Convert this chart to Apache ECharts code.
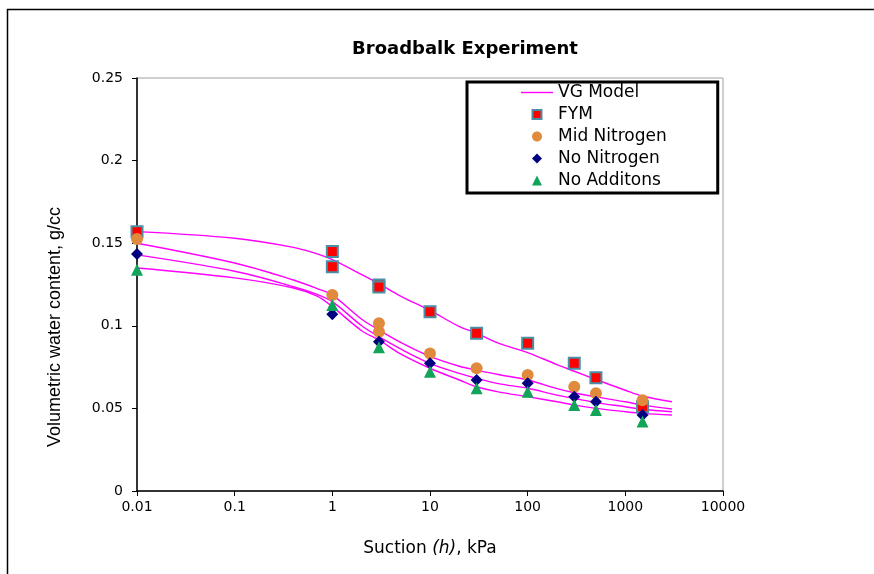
<!DOCTYPE html>
<html>
<head>
<meta charset="utf-8">
<script src="https://cdn.jsdelivr.net/npm/echarts@6/dist/echarts.min.js"></script>
<style>
html,body{margin:0;padding:0;background:#fff;}
#chart{width:874px;height:574px;}
</style>
</head>
<body>
<div id="chart"></div>
<script>
// ---- data ----
const xTicks = [0.01, 0.1, 1, 10, 100, 1000, 10000];

const fymSuction = [0.01, 1, 1, 3, 3, 10, 30, 100, 300, 500, 1500];
const fymVwc     = [0.157, 0.145, 0.1358, 0.1247, 0.1235, 0.1085, 0.0955, 0.0894, 0.0773, 0.0686, 0.051];

const midSuction = [0.01, 1, 3, 3, 10, 30, 100, 300, 500, 1500];
const midVwc     = [0.1525, 0.1186, 0.1015, 0.0964, 0.0833, 0.0743, 0.0702, 0.0631, 0.0591, 0.055];

const noNSuction = [0.01, 1, 3, 10, 30, 100, 300, 500, 1500];
const noNVwc     = [0.1435, 0.107, 0.0904, 0.0773, 0.0672, 0.0652, 0.057, 0.054, 0.046];

const noAddSuction = [0.01, 1, 3, 10, 30, 100, 300, 500, 1500];
const noAddVwc     = [0.134, 0.1126, 0.087, 0.0722, 0.0622, 0.0601, 0.052, 0.049, 0.042];

// VG model curves
const vgSuction = [0.01, 0.1, 0.4, 0.7, 1, 2, 3, 5, 10, 20, 30, 50, 100, 200, 300, 500, 1000, 1500, 3000];
const vgFym   = [0.157, 0.153, 0.1475, 0.1435, 0.140, 0.131, 0.1255, 0.118, 0.1093, 0.0995, 0.0955, 0.0895, 0.0838, 0.0765, 0.0725, 0.0675, 0.061, 0.0575, 0.054];
const vgMid   = [0.150, 0.138, 0.1277, 0.1225, 0.1186, 0.104, 0.0975, 0.090, 0.0815, 0.0755, 0.0732, 0.0705, 0.0672, 0.062, 0.0595, 0.057, 0.054, 0.052, 0.0496];
const vgNoN   = [0.1429, 0.133, 0.1237, 0.119, 0.1146, 0.100, 0.0934, 0.086, 0.0773, 0.0712, 0.0682, 0.065, 0.0622, 0.058, 0.056, 0.0535, 0.051, 0.0495, 0.048];
const vgNoAdd = [0.135, 0.129, 0.1229, 0.118, 0.1116, 0.097, 0.0914, 0.083, 0.0743, 0.0672, 0.0631, 0.060, 0.0571, 0.054, 0.052, 0.050, 0.048, 0.047, 0.046];

const yTicks = [0, 0.05, 0.1, 0.15, 0.2, 0.25];

const legendNames = ['VG Model', 'FYM', 'Mid Nitrogen', 'No Nitrogen', 'No Additons'];

const zip = (xs, ys) => xs.map((x, i) => [x, ys[i]]);

const TXT = '"DejaVu Sans", sans-serif';

// legend icons drawn inside a 32x11 box (corner move-to points fix the box)
const BOX = 'M0,0 M32,11 ';
const ICON_LINE = 'path://' + BOX + 'M0,4.8 L32,4.8 L32,6.2 L0,6.2 Z';
const ICON_RECT = 'path://' + BOX + 'M11.5,1 L20.5,1 L20.5,10 L11.5,10 Z';
const ICON_CIRC = 'path://' + BOX + 'M16,0.5 C18.76,0.5 21,2.74 21,5.5 C21,8.26 18.76,10.5 16,10.5 C13.24,10.5 11,8.26 11,5.5 C11,2.74 13.24,0.5 16,0.5 Z';
const ICON_DIAM = 'path://' + BOX + 'M16,0.5 L21,5.5 L16,10.5 L11,5.5 Z';
const ICON_TRI  = 'path://' + BOX + 'M16,0.5 L21,10.5 L11,10.5 Z';

function vgSeries(vals) {
  return {
    name: 'VG Model', type: 'line', data: zip(vgSuction, vals),
    smooth: 0.35, symbol: 'none', showSymbol: false,
    lineStyle: { color: '#ff00ff', width: 1.4 }, itemStyle: { color: '#ff00ff' },
    z: 2, silent: true
  };
}

const chart = echarts.init(document.getElementById('chart'), null, { renderer: 'canvas' });
chart.setOption({
  animation: false,
  backgroundColor: '#ffffff',
  title: {
    text: 'Broadbalk Experiment', left: 460, top: 35, textAlign: 'center',
    textStyle: { fontFamily: TXT, fontSize: 18, fontWeight: 'bold', color: '#000' }
  },
  grid: { left: 137, right: 151, top: 78, bottom: 83, show: true, borderColor: '#a0a0a0', borderWidth: 1, backgroundColor: 'transparent' },
  legend: {
    orient: 'vertical', left: 467, top: 82,
    padding: [2, 51, 4, 53],
    itemWidth: 32, itemHeight: 11, itemGap: 5,
    symbolKeepAspect: true,
    backgroundColor: '#fff', borderColor: '#000', borderWidth: 3,
    textStyle: { fontFamily: TXT, fontSize: 17, color: '#000' },
    data: [
      { name: legendNames[0], icon: ICON_LINE, itemStyle: { color: '#ff00ff', borderWidth: 0 }, lineStyle: { width: 0 } },
      { name: legendNames[1], icon: ICON_RECT, itemStyle: { color: '#ff0000', borderColor: '#4a8fa6', borderWidth: 2 } },
      { name: legendNames[2], icon: ICON_CIRC, itemStyle: { color: '#df8a3c', borderWidth: 0 } },
      { name: legendNames[3], icon: ICON_DIAM, itemStyle: { color: '#000080', borderWidth: 0 } },
      { name: legendNames[4], icon: ICON_TRI,  itemStyle: { color: '#12a55a', borderWidth: 0 } }
    ]
  },
  xAxis: {
    type: 'log', logBase: 10, min: xTicks[0], max: xTicks[xTicks.length - 1],
    name: '{a|Suction }{b|(h)}{a|, kPa}', nameLocation: 'middle', nameGap: 49,
    nameTextStyle: { rich: {
      a: { fontFamily: TXT, fontSize: 17, color: '#000' },
      b: { fontFamily: TXT, fontSize: 17, fontStyle: 'italic', color: '#000' }
    } },
    axisLine: { lineStyle: { color: '#000', width: 1.5 } },
    axisTick: { show: true, inside: false, length: 5, lineStyle: { color: '#000' } },
    axisLabel: { fontFamily: TXT, fontSize: 14, color: '#000', margin: 9,
      formatter: v => String(Number(v.toPrecision(6))) },
    splitLine: { show: false }, minorTick: { show: false }
  },
  yAxis: {
    type: 'value', min: yTicks[0], max: yTicks[yTicks.length - 1], interval: 0.05,
    axisLine: { show: true, lineStyle: { color: '#000', width: 1.5 } },
    axisTick: { show: true, inside: false, length: 5, lineStyle: { color: '#000' } },
    axisLabel: { fontFamily: TXT, fontSize: 14, color: '#000', margin: 14,
      formatter: v => String(Number(v.toPrecision(6))) },
    splitLine: { show: false }
  },
  graphic: [
    { type: 'polyline', shape: { points: [[7.5, 574], [7.5, 9.5], [874, 9.5]] },
      style: { stroke: '#000', lineWidth: 1.5, fill: null }, z: 100 },
    { type: 'text', x: 55, y: 327, rotation: Math.PI / 2,
      style: { text: 'Volumetric water content, g/cc', fontFamily: '"Liberation Sans", Arial, sans-serif',
        fontSize: 18, fill: '#000', textAlign: 'center', textVerticalAlign: 'middle' } }
  ],
  series: [
    vgSeries(vgFym), vgSeries(vgMid), vgSeries(vgNoN), vgSeries(vgNoAdd),
    { name: 'FYM', type: 'scatter', data: zip(fymSuction, fymVwc), symbol: 'rect', symbolSize: 11,
      itemStyle: { color: '#ff0000', borderColor: '#4a8fa6', borderWidth: 2, opacity: 1 }, z: 3 },
    { name: 'Mid Nitrogen', type: 'scatter', data: zip(midSuction, midVwc), symbol: 'circle', symbolSize: 12,
      itemStyle: { color: '#df8a3c', opacity: 1 }, z: 4 },
    { name: 'No Nitrogen', type: 'scatter', data: zip(noNSuction, noNVwc), symbol: 'diamond', symbolSize: 12,
      itemStyle: { color: '#000080', opacity: 1 }, z: 5 },
    { name: 'No Additons', type: 'scatter', data: zip(noAddSuction, noAddVwc), symbol: 'triangle', symbolSize: 12,
      itemStyle: { color: '#12a55a', opacity: 1 }, z: 6 }
  ]
});
</script>
</body>
</html>
